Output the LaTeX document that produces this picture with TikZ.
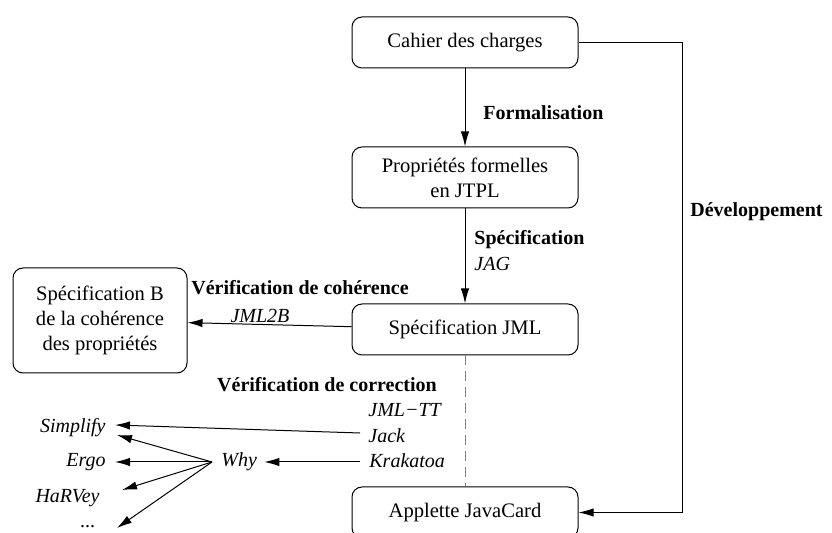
\documentclass[tikz,border=0pt]{standalone}
\usepackage{fontspec}
\setmainfont{Liberation Serif}
\usetikzlibrary{arrows.meta,calc}
\tikzset{
  box/.style={draw,rounded corners=5pt,minimum width=113pt,inner sep=0pt,align=center,line width=0.5pt},
  conn/.style={line width=0.5pt,-{Latex[length=7.5pt,width=4.2pt]}},
  lbl/.style={inner sep=0pt,font=\bfseries},
  tool/.style={inner sep=0pt,font=\itshape}
}
\begin{document}
\begin{tikzpicture}[x=0.5pt,y=-0.5pt,font=\fontsize{10.3}{12.5}\selectfont]
\useasboundingbox (0,0) rectangle (832,533);
% boxes
\node[box,minimum height=25.5pt] (cdc) at (465,42.5) {Cahier des charges};
\node[box,minimum height=30.5pt] (prop) at (465,177.5) {Propriétés formelles\\en JTPL};
\node[box,minimum height=25.5pt] (jml) at (465,329.5) {Spécification JML};
\node[box,minimum height=25.5pt] (app) at (465,512.5) {Applette JavaCard};
\node[box,minimum width=87pt,minimum height=52.5pt] (bspec) at (100,320.5) {Spécification B\\de la cohérence\\des propriétés};
% main arrows
\draw[conn] (cdc) -- (prop);
\draw[conn] (prop) -- (jml);
\draw[conn] (jml) -- (bspec);
\draw[line width=0.5pt,gray,dash pattern=on 5pt off 3pt] (jml) -- (app);
\coordinate (dtop) at (682,42.5);
\coordinate (dbot) at (682,512.5);
\draw[conn] (cdc.east) -- (dtop) -- (dbot) -- (app.east);
% labels
\node[lbl,anchor=west] (lform) at (483,113) {Formalisation};
\node[lbl,anchor=west] (lspec) at (474,240) {Spécification};
\node[tool,anchor=west] (ljag) at (474,264) {JAG};
\node[lbl,anchor=west] (ldev) at (690,212) {Développement};
\node[lbl] (lcoh) at (300,288) {Vérification de cohérence};
\node[tool] (ljml2b) at (260,316) {JML2B};
\node[lbl] (lcor) at (327,385) {Vérification de correction};
\node[tool,anchor=west] (jmltt) at (368,410) {JML−TT};
\node[tool,anchor=west] (jack) at (368,436) {Jack};
\node[tool,anchor=west] (krak) at (369,461) {Krakatoa};
\node[tool,anchor=west] (why) at (221,462) {Why};
\node[tool,anchor=east] (simp) at (106,428) {Simplify};
\node[tool,anchor=east] (ergo) at (106,462) {Ergo};
\node[tool,anchor=east] (harv) at (100,498) {HaRVey};
\node[tool,anchor=east] (dots) at (96,527) {...};
% tool arrows
\coordinate (whyo) at ($(why.west)+(-9,0)$);
\draw[conn] ($(jack.west)+(-8,-3)$) -- ($(simp.east)+(9,-3)$);
\draw[conn] ($(krak.west)+(-9,1)$) -- ($(why.east)+(7,0)$);
\draw[conn] (whyo) -- ($(simp.east)+(11,7)$);
\draw[conn] (whyo) -- ($(ergo.east)+(9,0)$);
\draw[conn] (whyo) -- ($(harv.east)+(22,-8)$);
\draw[conn] (whyo) -- ($(dots.east)+(21,1)$);
\end{tikzpicture}
\end{document}
